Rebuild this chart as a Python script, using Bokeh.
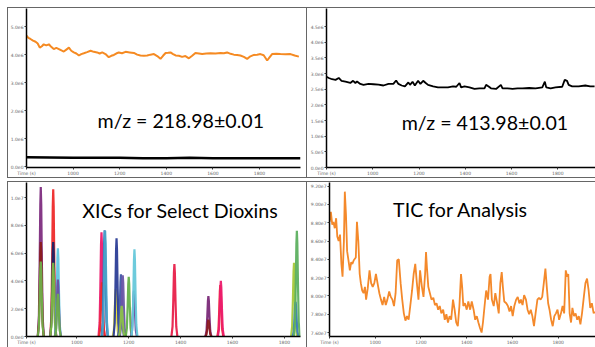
from bokeh.plotting import figure
from bokeh.layouts import column, row
from bokeh.models import Range1d, FixedTicker, Label
from bokeh.embed import file_html
from bokeh.resources import INLINE

# ---------------- data ----------------
# Top-left: m/z 218.98 extracted trace (orange) and baseline trace (black); intensity in 1e6
TL_ORANGE_T = [800, 808, 817, 828, 839, 848, 857, 866, 874, 885,
               896, 906, 917, 928, 939, 950, 960, 971, 982, 992,
               1003, 1014, 1025, 1035, 1046, 1060, 1075, 1089, 1103, 1114,
               1125, 1139, 1153, 1164, 1175, 1185, 1196, 1210, 1225, 1243,
               1261, 1275, 1289, 1304, 1318, 1332, 1347, 1361, 1375, 1386,
               1397, 1408, 1418, 1429, 1440, 1454, 1468, 1482, 1497, 1511,
               1525, 1540, 1554, 1572, 1590, 1611, 1633, 1647, 1661, 1676,
               1690, 1704, 1718, 1733, 1747, 1761, 1776, 1790, 1804, 1818,
               1833, 1843, 1854, 1872, 1890, 1911, 1933, 1951, 1969]
TL_ORANGE_Y = [4.68, 4.60, 4.56, 4.50, 4.46, 4.40, 4.25, 4.30, 4.37, 4.33,
               4.37, 4.28, 4.20, 4.24, 4.20, 4.15, 4.11, 4.18, 4.25, 4.14,
               4.08, 4.04, 3.97, 4.02, 4.05, 4.09, 4.14, 4.10, 4.08, 4.04,
               4.08, 4.02, 3.91, 3.96, 3.99, 4.04, 4.08, 4.05, 4.10, 4.08,
               4.06, 4.00, 3.97, 3.96, 3.97, 4.00, 4.02, 3.95, 3.85, 3.96,
               4.06, 4.07, 4.08, 4.02, 3.97, 3.96, 3.92, 3.95, 3.87, 3.96,
               4.06, 4.04, 4.02, 4.04, 4.05, 4.04, 4.06, 4.05, 4.08, 4.03,
               4.00, 3.99, 3.97, 3.92, 3.85, 3.94, 3.99, 4.00, 4.02, 3.98,
               3.79, 3.90, 4.02, 4.03, 4.02, 4.01, 4.02, 3.97, 3.93]
TL_BLACK_T = [800, 900, 1000, 1100, 1200, 1300, 1400, 1500, 1600, 1700, 1800, 1900, 1976]
TL_BLACK_Y = [0.33, 0.32, 0.31, 0.31, 0.31, 0.30, 0.30, 0.31, 0.30, 0.30, 0.30, 0.30, 0.30]

# Top-right: m/z 413.98 extracted trace; intensity in 1e6
TR_T = [800, 810, 824, 839, 853, 865, 882, 903, 915, 925,
        932, 946, 960, 982, 1003, 1025, 1046, 1068, 1089, 1101,
        1111, 1125, 1139, 1154, 1161, 1172, 1182, 1196, 1206, 1218,
        1229, 1239, 1261, 1282, 1304, 1325, 1347, 1361, 1375, 1382,
        1397, 1418, 1440, 1461, 1483, 1490, 1501, 1511, 1533, 1554,
        1561, 1583, 1604, 1626, 1647, 1676, 1704, 1733, 1744, 1750,
        1769, 1790, 1819, 1830, 1840, 1847, 1862, 1890, 1919, 1940,
        1959]
TR_Y = [2.90, 2.86, 2.82, 2.80, 2.86, 2.77, 2.74, 2.70, 2.77, 2.70,
        2.75, 2.67, 2.64, 2.67, 2.66, 2.65, 2.62, 2.67, 2.67, 2.78,
        2.67, 2.62, 2.59, 2.72, 2.64, 2.74, 2.62, 2.77, 2.67, 2.77,
        2.70, 2.64, 2.59, 2.56, 2.56, 2.56, 2.59, 2.58, 2.70, 2.56,
        2.59, 2.56, 2.51, 2.53, 2.53, 2.64, 2.59, 2.53, 2.51, 2.64,
        2.53, 2.53, 2.51, 2.53, 2.53, 2.54, 2.53, 2.56, 2.74, 2.56,
        2.53, 2.56, 2.58, 2.80, 2.77, 2.64, 2.59, 2.59, 2.62, 2.59,
        2.59]

# Bottom-left: XIC peaks (retention time s, apex height 1e6, colour)
XIC_RT = [861, 861, 861, 909, 909, 909, 927, 927, 927,
          1095, 1097, 1107, 1109, 1150, 1153, 1170, 1177, 1173,
          1200, 1220, 1222, 1376, 1507, 1507, 1553, 1555,
          1837, 1843, 1848]
XIC_H = [10.75, 6.8, 5.4, 10.6, 6.8, 5.3, 6.35, 4.1, 3.06,
         7.5, 3.9, 7.65, 7.6, 3.4, 7.06, 4.47, 4.4, 2.2,
         4.3, 3.3, 6.28, 5.22, 2.9, 1.2, 3.7, 4.0,
         5.3, 2.5, 7.6]
XIC_COLOR = ["#7E2D80", "#8B1A1A", "#70B04A", "#EE2A2A", "#1A2366", "#7DBB42",
             "#62C6E0", "#6A4FA0", "#6DAF4B",
             "#EC1C6E", "#EE2A2A", "#2E6BB8", "#4AA3C8", "#E8E230", "#2B3D96",
             "#3F58A8", "#6A56A8", "#8CC04A",
             "#64B04A", "#6B4A9E", "#66C8DA", "#E8204A", "#7A2A78", "#8A1A20",
             "#EE2A2A", "#EC1C6E",
             "#A8C83A", "#3A7AC0", "#5DB060"]

# Bottom-right: TIC; intensity in 1e7
TIC_T = [800, 806, 812, 817, 823, 829, 834, 840, 846, 852,
         857, 863, 867, 872, 877, 883, 889, 895, 900, 906,
         915, 920, 926, 932, 937, 943, 949, 955, 960, 967,
         975, 982, 989, 996, 1003, 1010, 1018, 1025, 1032, 1039,
         1046, 1053, 1061, 1068, 1075, 1082, 1089, 1096, 1103, 1111,
         1118, 1125, 1132, 1139, 1146, 1153, 1161, 1168, 1175, 1182,
         1189, 1196, 1204, 1211, 1218, 1222, 1226, 1232, 1239, 1246,
         1254, 1261, 1268, 1275, 1282, 1289, 1297, 1304, 1311, 1318,
         1325, 1332, 1340, 1347, 1354, 1361, 1368, 1375, 1380, 1385,
         1392, 1400, 1407, 1415, 1422, 1430, 1437, 1444, 1451, 1458,
         1465, 1471, 1478, 1485, 1493, 1500, 1504, 1510, 1518, 1525,
         1533, 1540, 1547, 1553, 1558, 1564, 1573, 1580, 1587, 1594,
         1601, 1608, 1616, 1623, 1630, 1637, 1644, 1651, 1659, 1666,
         1673, 1680, 1687, 1694, 1701, 1709, 1716, 1723, 1730, 1737,
         1744, 1750, 1756, 1762, 1769, 1776, 1783, 1790, 1797, 1804,
         1812, 1819, 1826, 1833, 1839, 1844, 1850, 1856, 1862, 1869,
         1876, 1883, 1890, 1897, 1904, 1912, 1919, 1926, 1933, 1940,
         1947, 1955, 1959]
TIC_Y = [8.81, 8.92, 8.78, 8.81, 8.74, 8.85, 8.65, 8.60, 8.67, 8.35,
         8.21, 8.60, 9.14, 8.89, 8.49, 8.39, 8.28, 8.37, 8.35, 8.39,
         8.42, 8.81, 8.60, 8.24, 8.14, 8.06, 8.03, 8.10, 7.96, 8.08,
         8.28, 8.14, 8.10, 8.14, 8.24, 8.14, 8.03, 7.96, 7.90, 7.99,
         7.90, 7.96, 8.05, 7.99, 7.96, 7.89, 8.03, 8.39, 8.40, 8.14,
         7.96, 7.81, 7.73, 7.78, 7.74, 7.89, 8.06, 8.24, 8.35, 8.14,
         7.96, 8.28, 8.10, 7.99, 8.24, 8.48, 8.31, 8.10, 8.03, 7.96,
         7.98, 7.90, 7.92, 7.85, 7.89, 7.81, 7.85, 7.74, 7.80, 7.71,
         7.78, 7.74, 7.96, 7.85, 7.71, 7.67, 7.89, 8.24, 8.10, 7.89,
         7.92, 7.85, 7.94, 7.85, 7.94, 7.85, 7.74, 7.78, 7.71, 7.65,
         7.60, 7.71, 7.89, 8.06, 7.96, 8.21, 8.24, 7.96, 7.89, 8.03,
         7.92, 7.81, 8.14, 8.26, 8.10, 7.94, 7.92, 7.89, 7.83, 7.89,
         7.78, 7.89, 7.96, 7.99, 7.92, 7.96, 7.90, 8.01, 7.96, 7.85,
         7.80, 7.85, 7.78, 7.67, 7.81, 7.96, 7.98, 7.96, 7.99, 8.14,
         8.30, 8.10, 7.92, 7.85, 7.74, 7.67, 7.78, 7.81, 7.85, 7.74,
         7.81, 7.89, 7.81, 8.28, 8.21, 8.24, 7.81, 7.71, 7.87, 7.78,
         7.81, 7.74, 7.78, 7.69, 7.81, 7.99, 8.14, 8.19, 8.06, 7.87,
         7.92, 7.81, 7.83]

# Tick values and labels
X_TICKS = [800, 1000, 1200, 1400, 1600, 1800]
X_LABELS = ["Time (s)", "1000", "1200", "1400", "1600", "1800"]
TL_YTICKS = [0, 1, 2, 3, 4, 5]
TL_YLABELS = ["0.0e0", "1.0e6", "2.0e6", "3.0e6", "4.0e6", "5.0e6"]
TR_YTICKS = [0, 0.5, 1.0, 1.5, 2.0, 2.5, 3.0, 3.5, 4.0, 4.5]
TR_YLABELS = ["0.0e0", "5.0e5", "1.0e6", "1.5e6", "2.0e6", "2.5e6", "3.0e6", "3.5e6", "4.0e6", "4.5e6"]
BL_XTICKS = [806, 1000, 1200, 1400, 1600, 1800]
BL_XLABELS = ["Time (s)", "1000", "1200", "1400", "1600", "1800"]
BL_YTICKS = [0, 2, 4, 6, 8, 10]
BL_YLABELS = ["0.0e0", "2.0e6", "4.0e6", "6.0e6", "8.0e6", "1.0e7"]
BR_YTICKS = [7.6, 7.8, 8.0, 8.2, 8.4, 8.6, 8.8, 9.0, 9.2]
BR_YLABELS = ["7.60e7", "7.80e7", "8.00e7", "8.20e7", "8.40e7", "8.60e7", "8.80e7", "9.00e7", "9.20e7"]

# peak shape template (offsets in sigma and relative height)
PEAK_SIGMA = 3.6
PEAK_OFF = [-3.2, -2.0, -1.2, -0.5, 0.0, 0.5, 1.2, 2.0, 3.2]
PEAK_REL = [0.0, 0.135, 0.487, 0.882, 1.0, 0.882, 0.487, 0.135, 0.0]

FONT = "Lato"
LINE = "#666666"


def make_fig(w, h, xr, yr, borders, xticks, xlabels, yticks, ylabels, shadow):
    bl, br, bt, bb = borders
    p = figure(width=w, height=h, x_range=Range1d(*xr), y_range=Range1d(*yr),
               output_backend="svg", toolbar_location=None,
               min_border_left=bl, min_border_right=br,
               min_border_top=bt, min_border_bottom=bb)
    p.xgrid.visible = False
    p.ygrid.visible = False
    p.outline_line_color = None
    p.border_fill_alpha = 0
    p.styles = {"box-shadow": shadow, "background": "white"}
    for ax, ticks, labels in ((p.xaxis[0], xticks, xlabels), (p.yaxis[0], yticks, ylabels)):
        ax.ticker = FixedTicker(ticks=ticks)
        ax.major_label_overrides = dict(zip(ticks, labels))
        ax.axis_line_color = "black"
        ax.axis_line_width = 1.5
        ax.major_tick_in = 0
        ax.major_tick_out = 2
        ax.major_tick_line_color = "#333333"
        ax.minor_tick_line_color = None
        ax.major_label_text_font_size = "4.5px"
        ax.major_label_text_color = "#666666"
        ax.major_label_text_font = "DejaVu Sans"
        ax.major_label_standoff = 1
    return p


def add_title(p, x, y, text):
    p.add_layout(Label(x=x, y=y, text=text, text_font=FONT, text_font_size="19.6px",
                       text_color="#000000", text_baseline="alphabetic"))


TOP_SEP = "inset 0 3px 0 white, inset 0 4px 0 " + LINE

# ---------------- top-left ----------------
tl = make_fig(300, 171, (800, 1976), (-0.035, 5.65), (19, 7, 1, 7),
              X_TICKS, X_LABELS, TL_YTICKS, TL_YLABELS,
              f"inset 1px 1px 0 {LINE}, inset -1px -1px 0 {LINE}")
tl.line(TL_BLACK_T, TL_BLACK_Y, line_color="black", line_width=2.5)
tl.line(TL_ORANGE_T, TL_ORANGE_Y, line_color="#F58A22", line_width=2)
add_title(tl, 1105, 1.64, "m/z = 218.98±0.01")

# ---------------- top-right ----------------
tr = make_fig(288, 171, (800, 1963), (0, 5.08), (17, 0, 1, 8),
              X_TICKS, X_LABELS, TR_YTICKS, TR_YLABELS,
              f"inset 0 1px 0 {LINE}, inset 0 -1px 0 {LINE}")
tr.line(TR_T, TR_Y, line_color="black", line_width=1.8)
add_title(tr, 1125, 1.43, "m/z = 413.98±0.01")

# ---------------- bottom-left ----------------
bl = make_fig(300, 169, (806, 1862), (0, 11.08), (19, 7, 4, 8),
              BL_XTICKS, BL_XLABELS, BL_YTICKS, BL_YLABELS,
              f"{TOP_SEP}, inset 1px 0 0 {LINE}, inset -1px 0 0 {LINE}")
xs = [[rt + o * PEAK_SIGMA for o in PEAK_OFF] for rt in XIC_RT]
ys = [[hgt * r for r in PEAK_REL] for hgt in XIC_H]
bl.multi_line(xs, ys, line_color=XIC_COLOR, line_width=2.2, line_alpha=0.95)
add_title(bl, 1021, 9.03, "XICs for Select Dioxins")

# ---------------- bottom-right ----------------
br = make_fig(288, 169, (800, 1963), (7.557, 9.24), (17, 0, 4, 8),
              X_TICKS, X_LABELS, BR_YTICKS, BR_YLABELS, TOP_SEP)
br.line(TIC_T, TIC_Y, line_color="#F4892B", line_width=1.8)
add_title(br, 1078, 8.944, "TIC for Analysis")

layout = column(row(tl, tr), row(bl, br), margin=(7, 0, 0, 7))
open("out.html", "w").write(file_html(layout, INLINE))
